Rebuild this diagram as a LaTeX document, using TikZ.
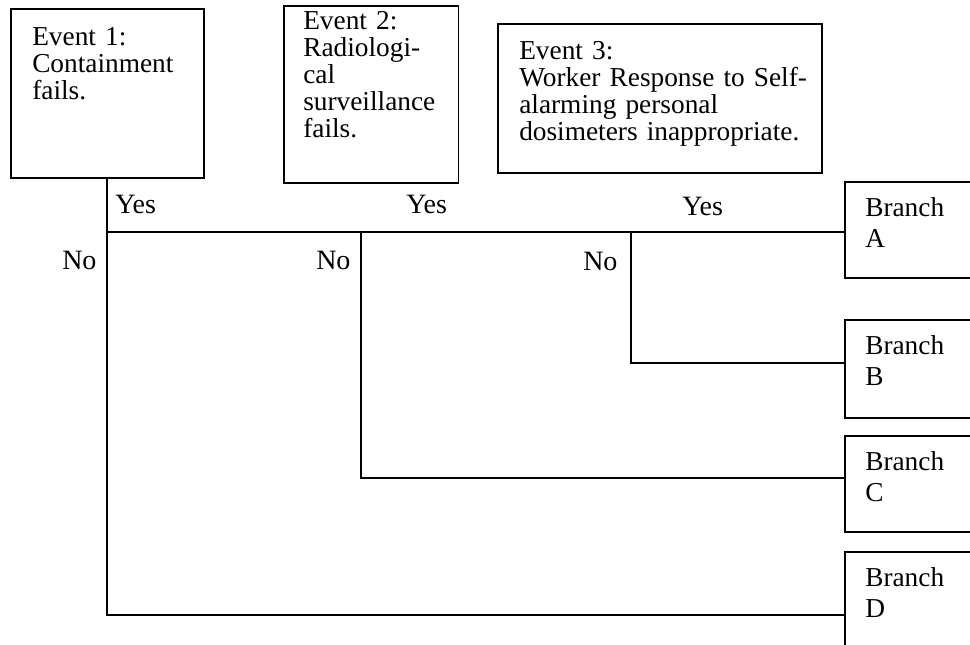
\documentclass[tikz,border=0pt]{standalone}
\usepackage{fontspec}
\setmainfont{Liberation Serif}
\begin{document}
\begin{tikzpicture}[x=0.75pt,y=-0.75pt,
  box/.style={draw=black,line width=1.3pt,anchor=north west,inner sep=0pt,fill=none},
  evtext/.style={anchor=base west,inner sep=0pt,align=left,text width=8cm,
    font=\fontsize{20.5pt}{20.4pt}\selectfont},
  brtext/.style={anchor=base west,inner sep=0pt,align=left,text width=3cm,
    font=\fontsize{20.5pt}{23.25pt}\selectfont},
  lbl/.style={anchor=base west,inner sep=0pt,font=\fontsize{21pt}{21pt}\selectfont},
  wire/.style={draw=black,line width=1.4pt}]
\useasboundingbox (0,0) rectangle (970,644);
\fill[white] (0,0) rectangle (970,644);
\clip (0,0) rectangle (970,644);

% event boxes
\node[box,minimum width=144.75pt,minimum height=127pt] (ev1) at (10,8) {};
\node[box,minimum width=131pt,minimum height=133pt] (ev2) at (283,5) {};
\node[box,minimum width=243pt,minimum height=112pt] (ev3) at (497,23) {};
\node[evtext] (ev1t) at (32,45) {Event 1:\\Containment\\fails.};
\node[evtext] (ev2t) at (303,29) {Event 2:\\Radiologi-\\cal\\surveillance\\fails.};
\node[evtext] (ev3t) at (519,59) {Event 3:\\Worker Response to Self-\\alarming personal\\dosimeters inappropriate.};

% outcome boxes (running off the right edge)
\node[box,minimum width=110pt,minimum height=72pt] (brA) at (844,181) {};
\node[box,minimum width=110pt,minimum height=73.5pt] (brB) at (844,319) {};
\node[box,minimum width=110pt,minimum height=72pt] (brC) at (844,435) {};
\node[box,minimum width=110pt,minimum height=90pt] (brD) at (844,551) {};
\node[brtext] (brAt) at (865,216) {Branch\\A};
\node[brtext] (brBt) at (865,354) {Branch\\B};
\node[brtext] (brCt) at (865,470) {Branch\\C};
\node[brtext] (brDt) at (865,586) {Branch\\D};

% junctions of the tree
\coordinate (y1) at (ev1.south |- 0,232);
\coordinate (n2) at (361,232);
\coordinate (n3) at (631,232);
\coordinate (b)  at (631,363);
\coordinate (c)  at (361,478);
\coordinate (d)  at (ev1.south |- 0,615);

\draw[wire] (ev1.south) -- (d) -- (d -| brD.west);
\draw[wire] (y1) -- (y1 -| brA.west);
\draw[wire] (n2) -- (c) -- (c -| brC.west);
\draw[wire] (n3) -- (b) -- (b -| brB.west);

% branch labels
\node[lbl] (yes1) at (115,213) {Yes};
\node[lbl] (yes2) at (406,213) {Yes};
\node[lbl] (yes3) at (682,215) {Yes};
\node[lbl] (no1) at (62,269) {No};
\node[lbl] (no2) at (316,269) {No};
\node[lbl] (no3) at (583,270) {No};
\end{tikzpicture}
\end{document}
